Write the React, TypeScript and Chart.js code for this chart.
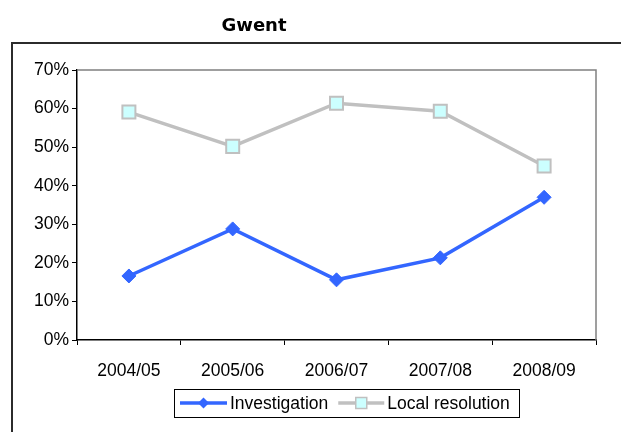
import React, { useEffect, useRef } from 'react';
import { Chart, registerables } from 'chart.js';

Chart.register(...registerables);

const chartTitle = 'Gwent';
const categories = ['2004/05', '2005/06', '2006/07', '2007/08', '2008/09'];
const seriesNames = ['Investigation', 'Local resolution'];
const investigation = [16.6, 28.8, 15.6, 21.3, 37.0];
const localResolution = [59.1, 50.2, 61.4, 59.3, 45.1];
const yMin = 0;
const yMax = 70;
const yStep = 10;

const BLUE = '#3366FF';
const GRAY = '#C0C0C0';
const CYAN = '#CCFFFF';
const FONT = '"Liberation Sans", Arial, sans-serif';

const decorPlugin = {
  id: 'decor',
  beforeDraw(chart: any) {
    const ctx = chart.ctx;
    ctx.save();
    ctx.fillStyle = '#ffffff';
    ctx.fillRect(0, 0, chart.width, chart.height);
    ctx.strokeStyle = '#2b2b2b';
    ctx.lineWidth = 2;
    ctx.strokeRect(12, 43, chart.width + 40, chart.height + 40);
    ctx.font = 'bold 18px "DejaVu Sans", Verdana, sans-serif';
    ctx.fillStyle = '#000';
    ctx.textAlign = 'center';
    ctx.textBaseline = 'middle';
    ctx.fillText(chartTitle, 254, 26);
    ctx.restore();
  },
  afterDraw(chart: any) {
    const ctx = chart.ctx;
    const { left, right, top, bottom } = chart.chartArea;
    ctx.save();
    // plot border top / right
    ctx.strokeStyle = '#808080';
    ctx.lineWidth = 1.5;
    ctx.beginPath();
    ctx.moveTo(left, top);
    ctx.lineTo(right, top);
    ctx.lineTo(right, bottom);
    ctx.stroke();

    // legend box
    const bx = 174, by = 389, bw = 345, bh = 28;
    ctx.strokeStyle = '#000';
    ctx.lineWidth = 1;
    ctx.strokeRect(bx + 0.5, by + 0.5, bw, bh);
    const cy = by + bh / 2;
    ctx.font = `17.5px ${FONT}`;
    ctx.textBaseline = 'middle';
    ctx.textAlign = 'left';
    ctx.fillStyle = '#000';

    // item 1
    let x = 180;
    ctx.strokeStyle = BLUE;
    ctx.lineWidth = 3.5;
    ctx.beginPath();
    ctx.moveTo(x, cy);
    ctx.lineTo(x + 47, cy);
    ctx.stroke();
    const dx = x + 23.5, r = 5.5;
    ctx.fillStyle = BLUE;
    ctx.beginPath();
    ctx.moveTo(dx - r, cy);
    ctx.lineTo(dx, cy - r);
    ctx.lineTo(dx + r, cy);
    ctx.lineTo(dx, cy + r);
    ctx.closePath();
    ctx.fill();
    ctx.fillStyle = '#000';
    ctx.fillText(seriesNames[0], x + 50, cy + 1);
    const w1 = ctx.measureText(seriesNames[0]).width;

    // item 2
    x = x + 50 + w1 + 10;
    ctx.strokeStyle = GRAY;
    ctx.lineWidth = 3.5;
    ctx.beginPath();
    ctx.moveTo(x, cy);
    ctx.lineTo(x + 46, cy);
    ctx.stroke();
    const sx = x + 23, s = 5.5;
    ctx.fillStyle = CYAN;
    ctx.fillRect(sx - s, cy - s, 2 * s, 2 * s);
    ctx.strokeStyle = GRAY;
    ctx.lineWidth = 1.5;
    ctx.strokeRect(sx - s, cy - s, 2 * s, 2 * s);
    ctx.fillStyle = '#000';
    ctx.fillText(seriesNames[1], x + 49, cy + 1);
    ctx.restore();
  },
};

export default function App() {
  const ref = useRef<HTMLCanvasElement | null>(null);

  useEffect(() => {
    if (!ref.current) return;
    const chart = new Chart(ref.current, {
      type: 'line',
      data: {
        labels: categories,
        datasets: [
          {
            label: seriesNames[0],
            data: investigation,
            borderColor: BLUE,
            backgroundColor: BLUE,
            borderWidth: 3.5,
            pointStyle: 'rectRot',
            pointRadius: 7,
            pointBorderWidth: 1,
            pointBackgroundColor: BLUE,
            pointBorderColor: BLUE,
            tension: 0,
          },
          {
            label: seriesNames[1],
            data: localResolution,
            borderColor: GRAY,
            backgroundColor: CYAN,
            borderWidth: 3.5,
            pointStyle: 'rect',
            pointRadius: 9.2,
            pointBorderWidth: 2,
            pointBackgroundColor: CYAN,
            pointBorderColor: GRAY,
            tension: 0,
          },
        ],
      },
      options: {
        animation: false,
        responsive: true,
        maintainAspectRatio: false,
        layout: { padding: { left: 0, top: 70, right: 25, bottom: 52 } },
        plugins: {
          legend: { display: false },
          title: { display: false },
          tooltip: { enabled: false },
        },
        scales: {
          x: {
            offset: true,
            grid: {
              offset: true,
              drawOnChartArea: false,
              drawTicks: true,
              tickLength: 5,
              color: '#000',
            },
            border: { color: '#000', width: 1.5 },
            ticks: {
              color: '#000',
              font: { family: FONT, size: 17.5 },
              padding: 16,
              maxRotation: 0,
            },
            afterFit: (s: any) => {
              s.height = 40;
            },
          },
          y: {
            min: yMin,
            max: yMax,
            grid: {
              drawOnChartArea: false,
              drawTicks: true,
              tickLength: 5,
              color: '#000',
            },
            border: { color: '#000', width: 1.5 },
            ticks: {
              stepSize: yStep,
              color: '#000',
              font: { family: FONT, size: 17.5 },
              padding: 3,
              callback: (v: any) => `${v}%`,
            },
            afterFit: (s: any) => {
              s.width = 77;
            },
          },
        },
      },
      plugins: [decorPlugin],
    });
    return () => chart.destroy();
  }, []);

  return (
    <div style={{ position: 'absolute', left: 0, top: 0, width: 621, height: 432 }}>
      <canvas ref={ref} />
    </div>
  );
}
